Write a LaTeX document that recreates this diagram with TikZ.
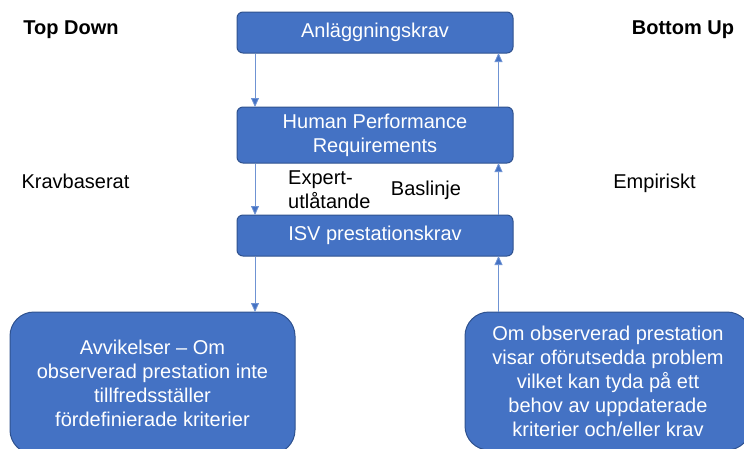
\documentclass[tikz,border=0pt]{standalone}
\usepackage{fontspec}
\setmainfont{Liberation Sans}
\usetikzlibrary{arrows.meta}
\definecolor{boxfill}{HTML}{4472C4}
\definecolor{boxedge}{HTML}{2F528F}
\definecolor{linkcol}{HTML}{6F93D3}
\tikzset{
  bluebox/.style={draw=boxedge, line width=1pt, fill=boxfill, text=white,
    rounded corners=6pt, minimum width=276pt, align=center, inner sep=2pt,
    font=\fontsize{20pt}{24pt}\selectfont},
  bigbox/.style={bluebox, rounded corners=24pt},
  lbl/.style={text=black, font=\fontsize{20pt}{24pt}\selectfont, inner sep=0pt},
  link/.style={draw=linkcol, line width=0.8pt,
    -{Triangle[width=8pt,length=9pt,fill=boxfill]}, shorten >=-0.5pt},
}
\begin{document}
\begin{tikzpicture}[x=1pt,y=1pt]
\useasboundingbox (0,0) rectangle (744,-448);
\clip (0,0) rectangle (744,-448);
% boxes
\node[bluebox, minimum height=41pt] (A) at (375,-32.5) {Anläggningskrav};
\node[bluebox, minimum height=56pt] (H) at (375,-135) {Human Performance\\Requirements};
\node[bluebox, minimum height=41pt] (I) at (375,-235.5) {ISV prestationskrav};
\node[bigbox, minimum width=285pt, minimum height=142pt] (L) at (152.5,-383)
  {Avvikelser -- Om\\observerad prestation inte\\tillfredsställer\\fördefinierade kriterier};
\node[bigbox, minimum width=286pt, minimum height=138pt] (R) at (608,-381)
  {Om observerad prestation\\visar oförutsedda problem\\vilket kan tyda på ett\\behov av uppdaterade\\kriterier och/eller krav};
% connector columns
\coordinate (xd) at (255,0);
\coordinate (xu) at (498.5,0);
\draw[link] (A.south -| xd) -- (H.north -| xd);
\draw[link] (H.south -| xd) -- (I.north -| xd);
\draw[link] (I.south -| xd) -- (L.north -| xd);
\draw[link] (H.north -| xu) -- (A.south -| xu);
\draw[link] (I.north -| xu) -- (H.south -| xu);
\draw[link] (R.north -| xu) -- (I.south -| xu);
% labels
\node[lbl, font=\bfseries\fontsize{20pt}{24pt}\selectfont, anchor=base] (td) at (71,-34) {Top Down};
\node[lbl, font=\bfseries\fontsize{20pt}{24pt}\selectfont, anchor=base] (bu) at (683,-34) {Bottom Up};
\node[lbl, anchor=base] (kb) at (75.5,-188) {Kravbaserat};
\node[lbl, anchor=base] (em) at (654.5,-188) {Empiriskt};
\node[lbl, anchor=base] (bl) at (426,-195) {Baslinje};
\node[lbl, anchor=base west, align=left] (ex) at (288,-208) {Expert-\\utlåtande};
\end{tikzpicture}
\end{document}
